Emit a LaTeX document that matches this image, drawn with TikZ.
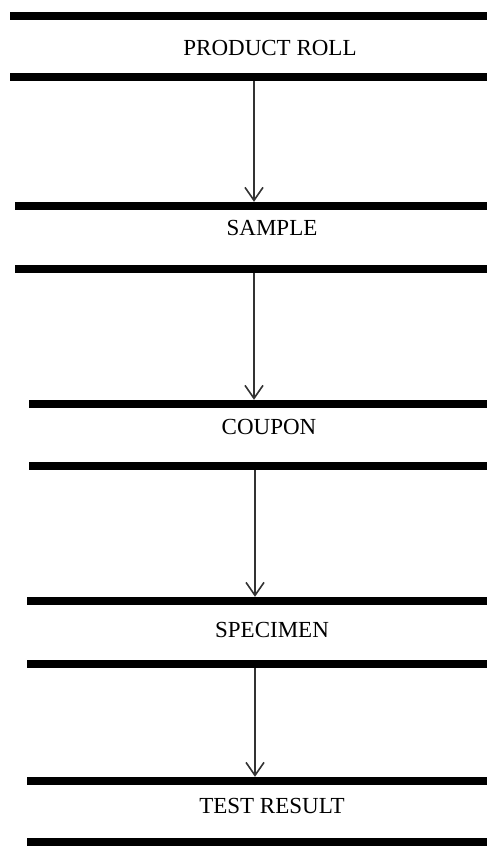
\documentclass[tikz,border=0pt]{standalone}
\usepackage{fontspec}
\setmainfont{Liberation Serif}
\usetikzlibrary{arrows.meta}
\begin{document}
\begin{tikzpicture}[x=1pt,y=-1pt,
  bar/.style={fill=black,draw=none,inner sep=0pt,minimum height=8pt,anchor=east},
  lbl/.style={font=\fontsize{23}{26}\selectfont,inner sep=0pt,anchor=base},
  conn/.style={draw=black!80,line width=1.1pt,-{Straight Barb[length=13pt,width=18pt,line width=1.6pt]}}]
\useasboundingbox (0,0) rectangle (487,846);
\node[bar,minimum width=477pt] (b1) at (487,15.5) {};
\node[bar,minimum width=477pt] (b2) at (487,77) {};
\node[bar,minimum width=472pt] (b3) at (487,206) {};
\node[bar,minimum width=472pt] (b4) at (487,269) {};
\node[bar,minimum width=458pt] (b5) at (487,404) {};
\node[bar,minimum width=458pt] (b6) at (487,466) {};
\node[bar,minimum width=460pt] (b7) at (487,601) {};
\node[bar,minimum width=460pt] (b8) at (487,664) {};
\node[bar,minimum width=460pt] (b9) at (487,781) {};
\node[bar,minimum width=460pt] (b10) at (487,842) {};
\node[lbl] (t1) at (270,55) {PRODUCT ROLL};
\node[lbl] (t2) at (272,235) {SAMPLE};
\node[lbl] (t3) at (269,434) {COUPON};
\node[lbl] (t4) at (272,637) {SPECIMEN};
\node[lbl] (t5) at (272,813) {TEST RESULT};
\draw[conn] (b2.south -| 254,0) -- (b3.north -| 254,0);
\draw[conn] (b4.south -| 254,0) -- (b5.north -| 254,0);
\draw[conn] (b6.south -| 255,0) -- (b7.north -| 255,0);
\draw[conn] (b8.south -| 255,0) -- (b9.north -| 255,0);
\end{tikzpicture}
\end{document}
